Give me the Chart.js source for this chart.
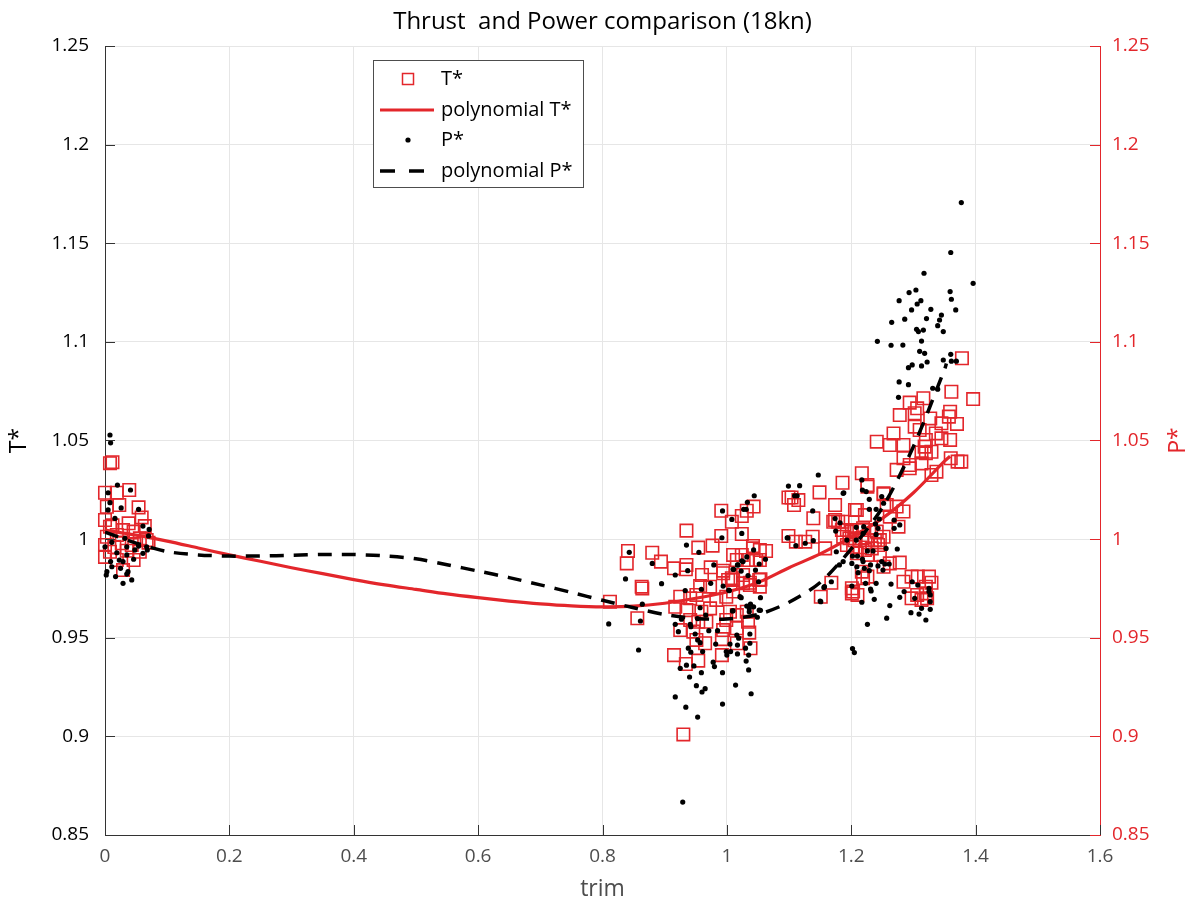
<!DOCTYPE html>
<html>
<head>
<meta charset="utf-8">
<script src="https://cdn.jsdelivr.net/npm/chart.js@4.4.1/dist/chart.umd.min.js"></script>
<style>
  html, body { margin: 0; padding: 0; background: #ffffff; }
  #c { display: block; }
</style>
</head>
<body>
<canvas id="c" width="1198" height="909"></canvas>
<script>
// ---------------- DATA ----------------
const chartTitle = 'Thrust  and Power comparison (18kn)';
const xTitle = 'trim';
const yLeftTitle = 'T*';
const yRightTitle = 'P*';
const xTicks = [0, 0.2, 0.4, 0.6, 0.8, 1, 1.2, 1.4, 1.6];
const yTicks = [0.85, 0.9, 0.95, 1, 1.05, 1.1, 1.15, 1.2, 1.25];
const seriesLabels = ['T*', 'polynomial T*', 'P*', 'polynomial P*'];

// T* measurements [trim, T*]
const tPoints = [
  [0.008,1.0385],[0.012,1.039],[0.0,1.0235],[0.019,1.0235],[0.039,1.0249],[0.003,1.0164],[0.023,1.0173],
  [0.054,1.0161],[0.0,1.0097],[0.059,1.011],[0.064,1.0066],[0.008,1.0063],[0.029,1.0046],[0.046,1.0038],
  [0.003,1.0012],[0.019,1.0021],[0.056,1.0004],[0.067,0.9995],[0.0,0.997],[0.027,0.9979],[0.043,0.997],
  [0.070,0.9982],[0.008,0.9936],[0.035,0.9941],[0.0,0.991],[0.056,0.9936],[0.019,0.9894],[0.046,0.9894],
  [0.029,0.9843],[0.012,1.007],[0.038,1.008],[0.015,0.996],
  [1.099,1.0211],[0.991,1.0144],[1.008,1.0088],[1.024,1.0117],[1.032,1.0144],[1.043,1.0165],[0.935,1.0043],
  [0.991,1.0016],[1.024,1.0026],[1.099,1.0016],[0.841,0.994],[0.880,0.9931],[0.954,0.9957],[0.977,0.9967],
  [1.042,0.9965],[1.053,0.9945],[1.063,0.994],[1.010,0.992],[1.024,0.992],[0.839,0.9877],[0.894,0.9886],
  [0.915,0.9852],[0.935,0.9869],[0.934,0.9847],[0.960,0.9818],[0.974,0.9857],[0.994,0.984],[1.016,0.9894],
  [1.034,0.9894],[1.047,0.9894],[0.863,0.9759],[0.864,0.975],[0.957,0.9762],[0.973,0.9759],[1.002,0.9793],
  [1.010,0.9793],[1.026,0.9776],[1.037,0.9767],[1.052,0.9793],[1.053,0.9759],[0.812,0.9683],[0.925,0.9708],
  [0.941,0.97],[0.951,0.9717],[0.983,0.9692],[0.999,0.9708],[0.856,0.9599],[0.917,0.9657],[0.935,0.964],
  [0.959,0.9632],[0.973,0.9649],[1.005,0.9632],[1.016,0.9615],[1.032,0.9632],[0.941,0.959],[0.954,0.9581],
  [0.967,0.9581],[0.999,0.959],[1.034,0.9581],[0.925,0.9539],[0.946,0.9531],[0.994,0.9539],[1.016,0.9548],
  [1.036,0.9526],[0.951,0.9489],[0.965,0.9472],[0.992,0.9493],[1.016,0.9472],[1.038,0.9447],[0.915,0.9412],
  [0.992,0.9412],[0.934,0.9367],[0.954,0.9384],[0.930,0.901],
  [1.186,1.0286],[1.149,1.0237],[1.115,1.0198],[1.108,1.0173],[1.104,1.0211],[1.174,1.0173],[1.139,1.0106],
  [1.171,1.0088],[1.186,1.0088],[1.206,1.0148],[1.111,0.9987],[1.126,0.9987],[1.138,1.0012],[1.158,0.9953],
  [1.054,0.9796],[1.168,0.9779],[1.151,0.9708],[1.201,0.9751],[1.210,0.9717],[1.042,0.9953],[1.053,0.9894],
  [1.008,0.9802],[1.026,0.9818],[1.037,0.9779],[1.010,0.9734],[0.994,0.9827],
  [1.241,1.0494],[1.284,1.0477],[1.217,1.0334],[1.226,1.0274],[1.252,1.0228],[1.273,1.0165],[1.284,1.014],
  [1.209,1.0148],[1.222,1.0122],[1.257,1.0173],[1.262,1.0114],[1.276,1.0063],[1.179,1.0088],[1.185,1.0046],
  [1.193,1.0046],[1.201,1.0038],[1.209,1.0046],[1.219,1.0055],[1.229,1.0046],[1.241,1.0038],[1.252,1.0012],
  [1.187,1.0012],[1.197,1.0004],[1.205,0.9995],[1.217,1.0004],[1.227,0.9995],[1.238,0.9995],[1.246,0.9995],
  [1.193,0.997],[1.203,0.9961],[1.214,0.9958],[1.222,0.9945],[1.233,0.9953],[1.243,0.997],[1.209,0.9928],
  [1.227,0.992],[1.246,0.992],[1.278,0.9881],[1.252,0.986],[1.217,0.9835],[1.226,0.981],[1.262,0.9877],
  [1.284,0.9784],[1.297,0.981],[1.307,0.981],[1.325,0.981],[1.329,0.9779],[1.297,0.97],[1.320,0.9759],
  [1.320,0.9725],[1.306,0.9717],[1.313,0.9692],[1.322,0.97],[1.203,0.9734],[1.201,0.9725],[1.219,0.9802],
  [1.360,1.041],[1.371,1.0393],[1.377,1.0393],[1.337,1.0342],[1.329,1.0325],[1.294,1.0359],[1.313,1.0384],
  [1.320,1.0435],[1.318,1.0469],[1.174,1.0097],
  [1.361,1.0747],[1.396,1.071],[1.316,1.0714],[1.294,1.0692],[1.306,1.0663],[1.278,1.0629],[1.302,1.0638],
  [1.327,1.0612],[1.359,1.0646],[1.357,1.0621],[1.370,1.0584],[1.345,1.0587],[1.302,1.057],[1.310,1.0553],
  [1.268,1.0536],[1.262,1.0477],[1.336,1.0536],[1.345,1.0511],[1.359,1.0503],[1.320,1.0503],[1.329,1.0443],
  [1.313,1.0439],[1.284,1.041],[1.294,1.0376],[1.273,1.0351],[1.226,1.0266],[1.252,1.0232],[1.378,1.0917]
];

// P* measurements [trim, P*]
const pPoints = [
  [0.008,1.0528],[0.009,1.0488],[0.020,1.0274],[0.041,1.0249],[0.005,1.0235],[0.008,1.0185],[0.026,1.0158],
  [0.054,1.0151],[0.005,1.0148],[0.016,1.0105],[0.061,1.0066],[0.071,1.0049],[0.032,1.0004],[0.070,1.0016],
  [0.0,0.9961],[0.011,0.9984],[0.035,0.9961],[0.054,0.9965],[0.068,0.9945],[0.019,0.9931],[0.035,0.992],
  [0.061,0.9928],[0.023,0.9894],[0.029,0.9886],[0.046,0.9898],[0.011,0.986],[0.025,0.9852],[0.037,0.9835],
  [0.003,0.9835],[0.002,0.9818],[0.017,0.981],[0.035,0.9823],[0.043,0.9793],[0.029,0.9776],[0.009,0.9886],
  [0.067,0.9961],[0.048,0.9945],
  [1.099,1.0269],[1.044,1.022],[1.033,1.0187],[0.993,1.0143],[1.027,1.0151],[1.031,1.0151],[1.008,1.01],
  [1.024,1.0029],[0.992,1.0007],[1.097,1.0007],[0.935,0.997],[0.955,0.9933],[0.843,0.9933],[1.043,0.9945],
  [0.880,0.9877],[0.979,0.9869],[0.937,0.984],[1.010,0.9847],[1.017,0.9869],[1.024,0.989],[1.032,0.991],
  [1.046,0.9843],[1.052,0.9874],[1.062,0.9898],[0.917,0.9818],[1.023,0.9838],[0.837,0.9798],[0.895,0.9774],
  [1.034,0.9815],[1.051,0.9784],[0.974,0.9776],[0.994,0.9762],[0.959,0.9746],[0.933,0.9739],[1.003,0.9741],
  [1.054,0.9703],[1.023,0.9703],[0.864,0.967],[1.038,0.967],[1.036,0.9649],[1.043,0.9657],[0.957,0.9652],
  [1.009,0.9636],[1.054,0.9639],[0.966,0.9615],[0.953,0.9597],[0.927,0.9594],[0.861,0.9585],[1.049,0.9604],
  [0.810,0.957],[0.917,0.9568],[0.941,0.9568],[0.942,0.9556],[0.971,0.9536],[0.985,0.9536],[0.922,0.9531],
  [1.037,0.9519],[0.949,0.9519],[1.016,0.9514],[1.019,0.9498],[0.957,0.9475],[0.953,0.9489],[0.982,0.9468],
  [1.005,0.9468],[1.017,0.9463],[1.037,0.9472],[0.938,0.9447],[1.030,0.9447],[0.999,0.943],[0.961,0.943],
  [0.942,0.9427],[1.006,0.943],[1.017,0.9418],[1.035,0.9412],[1.000,0.9412],[0.858,0.9438],[0.978,0.9376],
  [1.031,0.9382],[0.935,0.9361],[0.947,0.9357],[0.925,0.9345],[0.980,0.9354],[1.035,0.9337],[0.959,0.9323],
  [0.993,0.9323],[0.940,0.9301],[1.014,0.926],[0.951,0.9257],[0.965,0.9242],[0.960,0.9225],[1.039,0.9216],
  [0.917,0.92],[0.993,0.9164],[0.934,0.9148],[0.953,0.9098],[0.929,0.8667],
  [1.147,1.0325],[1.117,1.0271],[1.109,1.022],[1.113,1.022],[1.187,1.0232],[1.138,1.0143],[1.174,1.0104],
  [1.182,1.0083],[1.098,1.0006],[1.139,0.9992],[1.111,0.9967],[1.126,0.9979],[1.175,1.0041],[1.181,0.9869],
  [1.168,0.9784],[1.156,0.9755],[1.151,0.9683],[1.201,0.9762],[1.026,0.9886],[1.018,0.9869],[1.011,0.9847],
  [1.004,0.9739],[1.021,0.9708],[1.032,0.9661],[1.052,0.964],[1.010,0.9637],[1.036,0.9632],
  [1.217,1.03],[1.218,1.0249],[1.224,1.0241],[1.229,1.0202],[1.249,1.0216],[1.252,1.0182],[1.229,1.0151],
  [1.240,1.0151],[1.269,1.0097],[1.278,1.0072],[1.245,1.0102],[1.208,1.006],[1.220,1.0063],[1.239,1.0077],
  [1.243,1.0055],[1.269,1.0055],[1.219,1.0029],[1.240,1.0024],[1.208,0.9995],[1.193,0.9995],[1.256,0.9953],
  [1.274,0.995],[1.226,0.994],[1.235,0.994],[1.176,0.9936],[1.202,0.9914],[1.210,0.9914],[1.218,0.9899],
  [1.187,0.9886],[1.201,0.9877],[1.209,0.986],[1.219,0.9886],[1.231,0.9869],[1.243,0.9864],[1.249,0.9886],
  [1.254,0.9874],[1.261,0.9874],[1.221,0.9852],[1.229,0.984],[1.251,0.9843],[1.211,0.983],[1.223,0.9776],
  [1.231,0.9747],[1.232,0.9737],[1.240,0.9776],[1.264,0.9772],[1.298,0.9784],[1.307,0.9767],[1.325,0.9751],
  [1.325,0.9734],[1.327,0.9717],[1.327,0.9683],[1.327,0.9644],[1.313,0.9649],[1.309,0.962],[1.296,0.9627],
  [1.302,0.97],[1.278,0.9705],[1.285,0.9734],[1.262,0.9663],[1.237,0.9695],[1.217,0.968],[1.257,0.9599],
  [1.320,0.959],[1.226,0.9568],[1.150,0.9686],[1.157,0.9759],[1.188,1.0235],[1.202,0.9445],[1.205,0.9425],
  [1.377,1.1706],[1.360,1.1453],[1.317,1.1348],[1.396,1.1297],[1.304,1.1263],[1.293,1.125],[1.359,1.1255],
  [1.277,1.1209],[1.312,1.1209],[1.361,1.1216],[1.306,1.1192],[1.297,1.1162],[1.328,1.1165],[1.368,1.1162],
  [1.286,1.1115],[1.321,1.1118],[1.345,1.1136],[1.342,1.1111],[1.265,1.1099],[1.339,1.1082],[1.305,1.1064],
  [1.308,1.1052],[1.316,1.106],[1.348,1.1052],[1.242,1.1003],[1.264,1.0983],[1.283,1.0984],[1.313,1.1004],
  [1.310,1.0952],[1.318,1.0942],[1.360,1.0937],[1.348,1.0908],[1.361,1.0902],[1.369,1.0902],[1.322,1.0898],
  [1.298,1.0883],[1.292,1.0869],[1.313,1.0878],[1.277,1.0797],[1.292,1.0783],[1.331,1.0765],[1.339,1.076],
  [1.276,1.0719]
];

// fitted curves [trim, value]
const polyT = [
  [0,1.0046],[0.05,1.002],[0.1,0.999],[0.15,0.9955],[0.2,0.992],[0.25,0.9888],[0.3,0.9855],[0.35,0.9825],
  [0.4,0.9795],[0.45,0.9768],[0.5,0.9745],[0.55,0.9722],[0.6,0.9703],[0.65,0.9686],[0.7,0.9672],[0.75,0.9662],
  [0.8,0.9657],[0.85,0.966],[0.9,0.9675],[0.95,0.97],[1.0,0.9732],[1.05,0.978],[1.1,0.9855],[1.15,0.9925],
  [1.2,1.001],[1.25,1.0105],[1.3,1.0235],[1.35,1.0395],[1.359,1.042]
];
const polyP = [
  [0,1.0035],[0.05,0.998],[0.1,0.9937],[0.15,0.992],[0.2,0.9914],[0.25,0.9915],[0.3,0.9918],[0.35,0.9922],
  [0.4,0.9922],[0.45,0.9915],[0.5,0.99],[0.55,0.987],[0.6,0.9838],[0.65,0.9805],[0.7,0.9768],[0.75,0.973],
  [0.8,0.969],[0.85,0.9652],[0.9,0.9618],[0.95,0.9598],[1.0,0.9595],[1.05,0.9618],[1.1,0.968],[1.15,0.978],
  [1.2,0.995],[1.25,1.016],[1.3,1.047],[1.35,1.086],[1.353,1.089]
];

// ---------------- STYLE ----------------
const RED = '#e3262b';
const FONT = '"Open Sans", "Noto Sans", sans-serif';
const toXY = arr => arr.map(p => ({ x: p[0], y: p[1] }));
const fmt = v => String(Number(v.toFixed(2)));

const insideTicks = {
  id: 'insideTicks',
  afterDatasetsDraw(chart) {
    const { ctx, chartArea: a, scales } = chart;
    ctx.save();
    ctx.lineWidth = 1;
    ctx.strokeStyle = '#333333';
    ctx.beginPath();
    xTicks.forEach(v => {
      const x = Math.round(scales.x.getPixelForValue(v)) + 0.5;
      ctx.moveTo(x, a.bottom); ctx.lineTo(x, a.bottom - 10);
    });
    yTicks.forEach(v => {
      const y = Math.round(scales.y.getPixelForValue(v)) + 0.5;
      ctx.moveTo(a.left, y); ctx.lineTo(a.left + 10, y);
    });
    ctx.stroke();
    ctx.strokeStyle = RED;
    ctx.beginPath();
    yTicks.forEach(v => {
      const y = Math.round(scales.y2.getPixelForValue(v)) + 0.5;
      ctx.moveTo(a.right, y); ctx.lineTo(a.right - 10, y);
    });
    ctx.stroke();
    ctx.restore();
  }
};

const textPlugin = {
  id: 'texts',
  afterDraw(chart) {
    const { ctx, chartArea: a } = chart;
    const cx = (a.left + a.right) / 2, cy = (a.top + a.bottom) / 2;
    ctx.save();
    ctx.textAlign = 'center';
    ctx.textBaseline = 'middle';
    ctx.fillStyle = '#000000';
    ctx.font = '500 24px ' + FONT;
    ctx.fillText(chartTitle, cx, 22);
    ctx.fillStyle = '#4d4d4d';
    ctx.font = '23px ' + FONT;
    ctx.fillText(xTitle, cx, 889);
    ctx.fillStyle = '#000000';
    ctx.save(); ctx.translate(19, cy); ctx.rotate(-Math.PI / 2); ctx.fillText(yLeftTitle, 0, 0); ctx.restore();
    ctx.fillStyle = RED;
    ctx.save(); ctx.translate(1178, cy); ctx.rotate(-Math.PI / 2); ctx.fillText(yRightTitle, 0, 0); ctx.restore();

    // legend
    const bx = 373, by = 60, bw = 210, bh = 127;
    ctx.fillStyle = '#ffffff';
    ctx.fillRect(bx, by, bw, bh);
    ctx.strokeStyle = '#4d4d4d';
    ctx.lineWidth = 1;
    ctx.strokeRect(bx + 0.5, by + 0.5, bw, bh);
    const rows = [79, 110, 140, 171];
    const ds = chart.data.datasets;
    ctx.font = '20px ' + FONT;
    ctx.textAlign = 'left';
    ctx.fillStyle = '#000000';
    rows.forEach((ry, i) => ctx.fillText(ds[i].label, 441, ry));
    // markers
    ctx.strokeStyle = RED; ctx.lineWidth = 1.5;
    ctx.strokeRect(402.5, 73.5, 11, 11);
    ctx.lineWidth = 3;
    ctx.beginPath(); ctx.moveTo(380, 110); ctx.lineTo(434, 110); ctx.stroke();
    ctx.fillStyle = '#000000';
    ctx.beginPath(); ctx.arc(408, 140, 2.6, 0, Math.PI * 2); ctx.fill();
    ctx.strokeStyle = '#000000'; ctx.lineWidth = 3.5;
    ctx.setLineDash([15, 14]);
    ctx.beginPath(); ctx.moveTo(380, 171); ctx.lineTo(434, 171); ctx.stroke();
    ctx.setLineDash([]);
    ctx.restore();
  }
};

const tickFont = { family: FONT, size: 19 };

new Chart(document.getElementById('c'), {
  type: 'scatter',
  data: {
    datasets: [
      {
        label: seriesLabels[0], data: toXY(tPoints), yAxisID: 'y', order: 3,
        pointStyle: 'rect', pointRadius: 8.8, borderColor: RED, borderWidth: 1.6,
        backgroundColor: 'rgba(0,0,0,0)', clip: false
      },
      {
        label: seriesLabels[1], type: 'line', data: toXY(polyT), yAxisID: 'y', order: 2,
        borderColor: RED, borderWidth: 3.2, pointRadius: 0, tension: 0.3, fill: false
      },
      {
        label: seriesLabels[2], data: toXY(pPoints), yAxisID: 'y2', order: 1,
        pointStyle: 'circle', pointRadius: 2.6, borderWidth: 0,
        backgroundColor: '#000000', borderColor: '#000000', clip: false
      },
      {
        label: seriesLabels[3], type: 'line', data: toXY(polyP), yAxisID: 'y2', order: 0,
        borderColor: '#000000', borderWidth: 3.5, borderDash: [14, 10], pointRadius: 0, tension: 0.3, fill: false
      }
    ]
  },
  options: {
    responsive: false,
    animation: false,
    devicePixelRatio: 1,
    layout: { padding: { top: 46, left: 0, right: 0, bottom: 0 } },
    plugins: { legend: { display: false }, tooltip: { enabled: false }, title: { display: false } },
    scales: {
      x: {
        type: 'linear', min: 0, max: 1.6,
        afterFit(s) { s.height = 74; },
        afterBuildTicks(s) { s.ticks = xTicks.map(v => ({ value: v })); },
        ticks: { font: tickFont, color: '#4d4d4d', padding: 10, maxRotation: 0, callback: v => fmt(v) },
        grid: { color: '#e6e6e6', lineWidth: 1, drawTicks: false },
        border: { display: true, color: '#333333', width: 1 }
      },
      y: {
        type: 'linear', position: 'left', min: 0.85, max: 1.25,
        afterFit(s) { s.width = 105; },
        afterBuildTicks(s) { s.ticks = yTicks.map(v => ({ value: v })); },
        ticks: { font: tickFont, color: '#000000', padding: 16, callback: v => fmt(v) },
        grid: { color: '#e6e6e6', lineWidth: 1, drawTicks: false },
        border: { display: true, color: '#333333', width: 1 }
      },
      y2: {
        type: 'linear', position: 'right', min: 0.85, max: 1.25,
        afterFit(s) { s.width = 98; },
        afterBuildTicks(s) { s.ticks = yTicks.map(v => ({ value: v })); },
        ticks: { font: tickFont, color: RED, padding: 12, callback: v => fmt(v) },
        grid: { display: false, drawTicks: false },
        border: { display: true, color: RED, width: 1 }
      }
    }
  },
  plugins: [insideTicks, textPlugin]
});
</script>
</body>
</html>
